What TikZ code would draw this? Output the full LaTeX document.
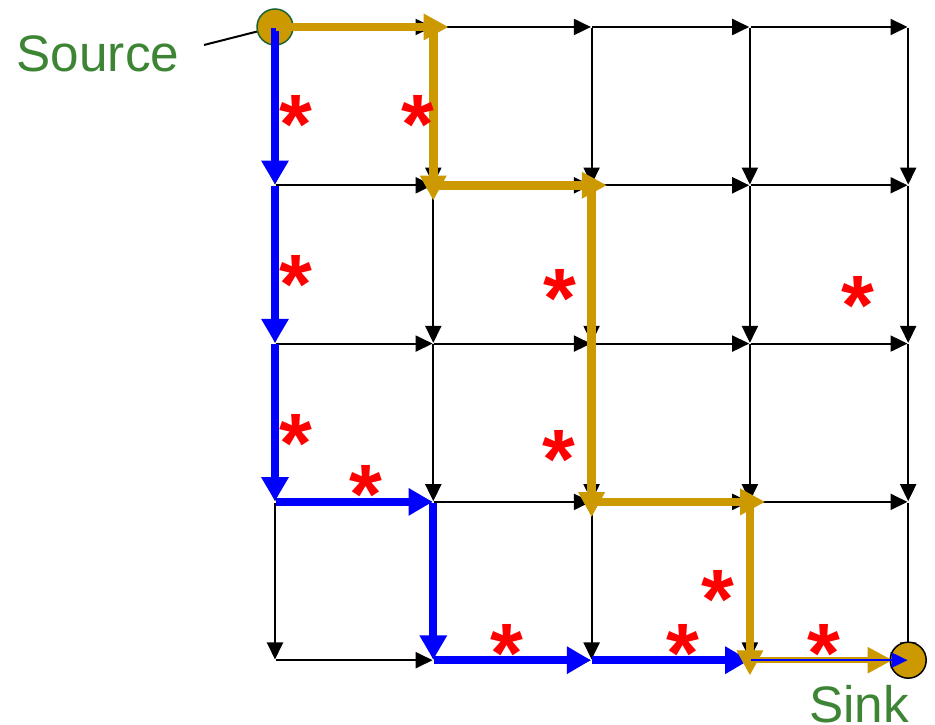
\documentclass[tikz,border=0pt]{standalone}
\usepackage{fontspec}
\setmainfont{Liberation Sans}
\usetikzlibrary{arrows.meta,positioning,calc}
\definecolor{pathgold}{RGB}{204,153,0}
\definecolor{pathblue}{RGB}{0,0,255}
\definecolor{labelgreen}{RGB}{61,133,52}
\definecolor{rimgreen}{RGB}{30,100,50}

\begin{document}
\begin{tikzpicture}[
        vertex/.style={inner sep=0pt, minimum size=0pt},
        edge/.style={-{Triangle[length=0.17cm,width=0.16cm]}, line width=0.02cm, black},
        bluepath/.style={-{Triangle[length=0.24cm,width=0.26cm]}, line width=0.08cm, pathblue},
        goldpath/.style={-{Triangle[length=0.25cm,width=0.25cm]}, line width=0.085cm, pathgold, shorten >=-0.16cm},
        terminal/.style={circle, fill=pathgold, minimum size=0.36cm, inner sep=0pt, line width=0.015cm},
        tag/.style={text=labelgreen, font=\fontsize{14.6}{16}\selectfont, inner sep=0pt},
        starmark/.style={text=red, font=\bfseries\fontsize{24}{24}\selectfont, inner sep=0pt, anchor=north, yshift=0.135cm}]

        \useasboundingbox (0,0) rectangle (9.35,7.25);

        % Grid vertices
        \foreach \i in {0,...,4}
          \foreach \j in {0,...,4}
            \node[vertex] (n\i\j) at ({2.75+1.583*\i},{6.98-1.583*\j}) {};

        % Grid edges (right and down)
        \foreach \i/\k in {0/1,1/2,2/3,3/4}
          \foreach \j in {0,...,4} {
            \draw[edge] (n\i\j) -- (n\k\j);
            \draw[edge] (n\j\i) -- (n\j\k);
          }

        % Source and sink
        \node[terminal, draw=rimgreen] (src) at (n00) {};
        \node[terminal, draw=black] (snk) at (n44) {};
        \node[tag] (srclabel) at (0.98,6.715) {Source};
        \node[tag] (snklabel) at (8.59,0.21) {Sink};
        \coordinate (srctail) at (2.04,6.80);
        \draw[line width=0.02cm] (srctail) -- (src);

        % Blue path
        \draw[bluepath] (n00) -- (n01);
        \draw[bluepath] (n01) -- (n02);
        \draw[bluepath] (n02) -- (n03);
        \draw[bluepath] (n03) -- (n13);
        \draw[bluepath] (n13) -- (n14);
        \draw[bluepath] (n14) -- (n24);
        \draw[bluepath] (n24) -- (n34);

        % Gold path
        \draw[goldpath] (n00) -- (n10);
        \draw[goldpath] (n10) -- (n11);
        \draw[goldpath] (n11) -- (n21);
        \draw[goldpath] (n21) -- (n23);
        \draw[goldpath] (n23) -- (n33);
        \draw[goldpath] (n33) -- (n34);
        \draw[goldpath, line width=0.06cm, shorten >=0.15cm] (n34) -- (n44);
        \draw[bluepath, line width=0.02cm, -{Triangle[length=0.16cm,width=0.15cm]}] (n34) -- (n44);

        % Marks
        \foreach \x/\y [count=\n] in {2.96/6.17, 4.18/6.17, 2.96/4.57, 5.60/4.43, 8.58/4.36, 2.96/2.98,
                                      5.59/2.82, 3.66/2.47, 7.18/1.42, 5.07/0.88, 6.83/0.88, 8.24/0.88}
          \node[starmark] (star\n) at (\x,\y) {*};

    \end{tikzpicture}
\end{document}
